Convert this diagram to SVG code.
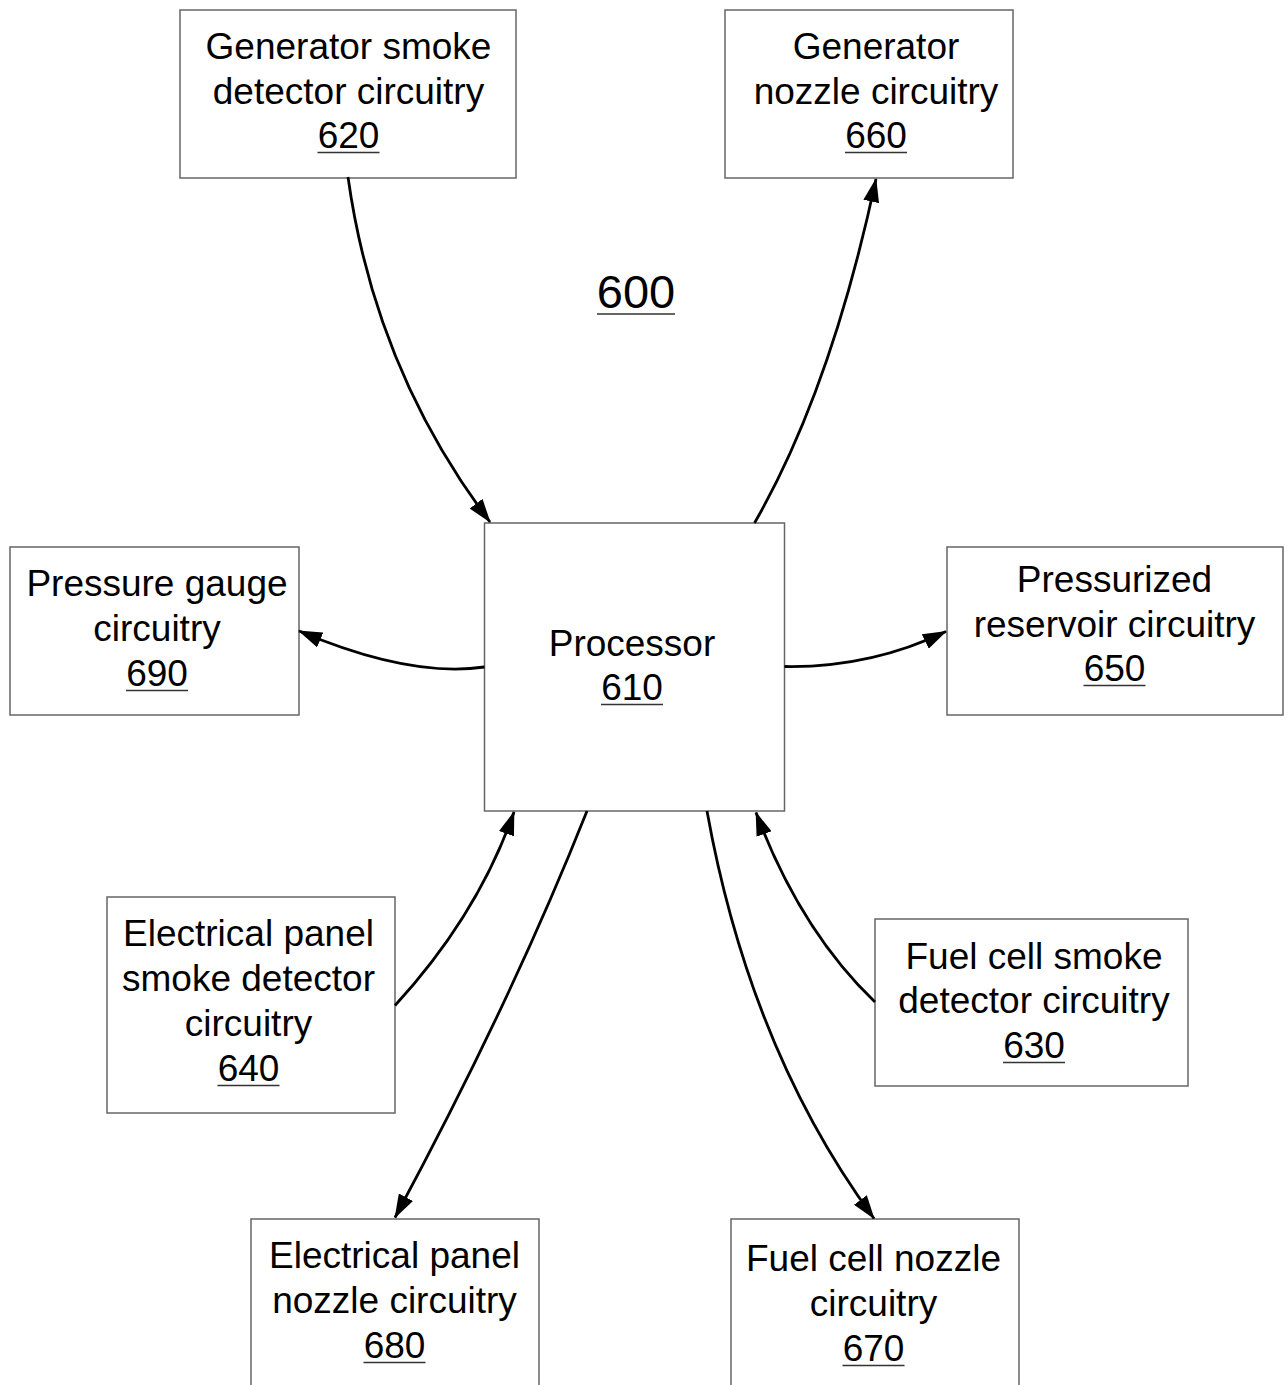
<svg xmlns="http://www.w3.org/2000/svg" width="1287" height="1385" viewBox="0 0 1287 1385">
<style>
.box{fill:#fff;stroke:#666;stroke-width:1.5}
.t{font-family:"Liberation Sans",Arial,sans-serif;font-size:37px;fill:#000;text-anchor:middle}
.u{stroke:#333;stroke-width:1.5}
.c{fill:none;stroke:#000;stroke-width:2.8;marker-end:url(#ah)}
</style>
<defs>
<marker id="ah" markerUnits="userSpaceOnUse" markerWidth="24" markerHeight="16" refX="23" refY="8" orient="auto" viewBox="0 0 24 16">
<path d="M0,0 L24,8 L0,16 z" fill="#000"/>
</marker>
</defs>
<rect width="1287" height="1385" fill="#fff"/>
<g id="label600">
<text class="t" x="636" y="308" style="font-size:47px">600</text>
<line class="u" x1="597" y1="314" x2="675" y2="314"/>
</g>
<g id="n620">
<rect class="box" x="180" y="10" width="336" height="168"/>
<text class="t" x="348.5" y="59">Generator smoke</text>
<text class="t" x="348.5" y="103.5">detector circuitry</text>
<text class="t" x="348.5" y="148">620</text>
<line class="u" x1="317.5" y1="152.5" x2="379.5" y2="152.5"/>
</g>
<g id="n660">
<rect class="box" x="725" y="10" width="288" height="168"/>
<text class="t" x="876" y="59">Generator</text>
<text class="t" x="876" y="103.5">nozzle circuitry</text>
<text class="t" x="876" y="148">660</text>
<line class="u" x1="845" y1="152.5" x2="907" y2="152.5"/>
</g>
<g id="n690">
<rect class="box" x="10" y="547" width="289" height="168"/>
<text class="t" x="157" y="596">Pressure gauge</text>
<text class="t" x="157" y="641">circuitry</text>
<text class="t" x="157" y="686">690</text>
<line class="u" x1="126" y1="690.5" x2="188" y2="690.5"/>
</g>
<g id="n650">
<rect class="box" x="947" y="547" width="336" height="168"/>
<text class="t" x="1114.5" y="592">Pressurized</text>
<text class="t" x="1114.5" y="637">reservoir circuitry</text>
<text class="t" x="1114.5" y="681">650</text>
<line class="u" x1="1083.5" y1="685.5" x2="1145.5" y2="685.5"/>
</g>
<g id="n610">
<rect class="box" x="484.5" y="523" width="300" height="288"/>
<text class="t" x="632" y="655.5">Processor</text>
<text class="t" x="632" y="700">610</text>
<line class="u" x1="601" y1="704.5" x2="663" y2="704.5"/>
</g>
<g id="n640">
<rect class="box" x="107" y="897" width="288" height="216"/>
<text class="t" x="248.5" y="946">Electrical panel</text>
<text class="t" x="248.5" y="991">smoke detector</text>
<text class="t" x="248.5" y="1036">circuitry</text>
<text class="t" x="248.5" y="1081">640</text>
<line class="u" x1="217.5" y1="1085.5" x2="279.5" y2="1085.5"/>
</g>
<g id="n630">
<rect class="box" x="875" y="919" width="313" height="167"/>
<text class="t" x="1034" y="969">Fuel cell smoke</text>
<text class="t" x="1034" y="1013">detector circuitry</text>
<text class="t" x="1034" y="1058">630</text>
<line class="u" x1="1003" y1="1062.5" x2="1065" y2="1062.5"/>
</g>
<g id="n680">
<rect class="box" x="251" y="1219" width="288" height="220"/>
<text class="t" x="394.5" y="1268">Electrical panel</text>
<text class="t" x="394.5" y="1313">nozzle circuitry</text>
<text class="t" x="394.5" y="1358">680</text>
<line class="u" x1="363.5" y1="1362.5" x2="425.5" y2="1362.5"/>
</g>
<g id="n670">
<rect class="box" x="731" y="1219" width="288" height="220"/>
<text class="t" x="873.5" y="1271">Fuel cell nozzle</text>
<text class="t" x="873.5" y="1316">circuitry</text>
<text class="t" x="873.5" y="1361">670</text>
<line class="u" x1="842.5" y1="1365.5" x2="904.5" y2="1365.5"/>
</g>
<g id="connectors">
<path class="c" d="M348,177 Q375,370 490,522"/>
<path class="c" d="M754.5,523 Q831,390 876,179"/>
<path class="c" d="M484.5,667 Q410,678 299,631"/>
<path class="c" d="M784.5,666.5 Q870,668 946,631.5"/>
<path class="c" d="M395,1005.5 Q478,915 514,812"/>
<path class="c" d="M875,1002 Q800,930 756,812.5"/>
<path class="c" d="M587,811 Q512,1000 395,1217.5"/>
<path class="c" d="M707,811 Q750,1050 874,1218.5"/>
</g>
</svg>
